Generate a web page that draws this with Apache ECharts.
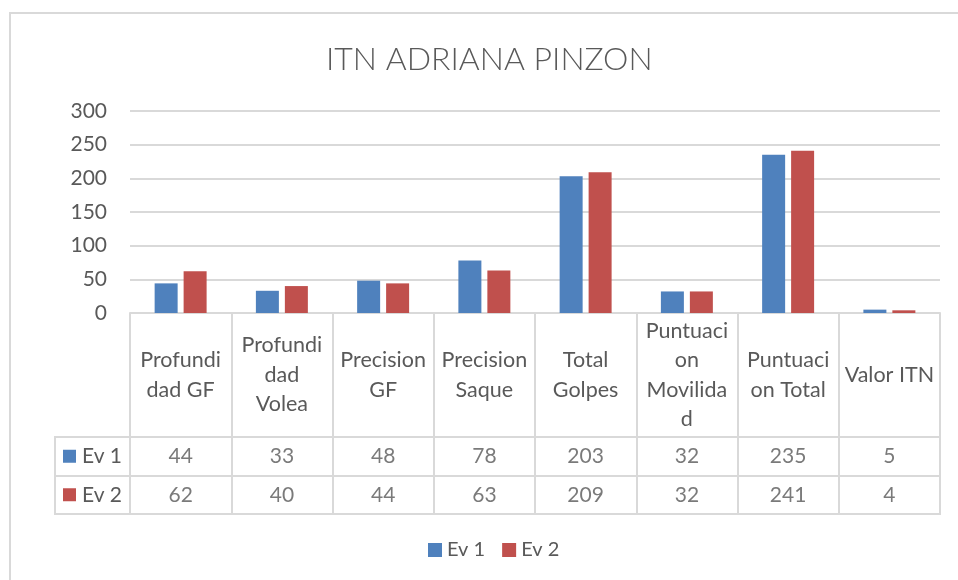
<!DOCTYPE html>
<html>
<head>
<meta charset="utf-8">
<script src="https://cdn.jsdelivr.net/npm/echarts@6/dist/echarts.min.js"></script>
<style>
html,body{margin:0;padding:0;background:#fff;}
#c{width:958px;height:580px;}
</style>
</head>
<body>
<div id="c"></div>
<script>
var titleText = 'ITN ADRIANA PINZON';
var categories = ['Profundidad GF','Profundidad Volea','Precision GF','Precision Saque','Total Golpes','Puntuacion Movilidad','Puntuacion Total','Valor ITN'];
var categoryLabels = ['Profundi\ndad GF','Profundi\ndad\nVolea','Precision\nGF','Precision\nSaque','Total\nGolpes','Puntuaci\non\nMovilida\nd','Puntuaci\non Total','Valor ITN'];
var seriesNames = ['Ev 1','Ev 2'];
var ev1 = [44,33,48,78,203,32,235,5];
var ev2 = [62,40,44,63,209,32,241,4];
var yTicks = [0,50,100,150,200,250,300];

var FONT = 'Lato';
var TXT = '#595959';
var LINE = '#d9d9d9';
var COLORS = ['#4f81bd','#c0504d'];

var tableData = [];
[ev1, ev2].forEach(function(arr, r){
  arr.forEach(function(v, i){ tableData.push([i, r, v]); });
});

var chart = echarts.init(document.getElementById('c'));
chart.setOption({
  animation:false,
  color: COLORS,
  textStyle:{fontFamily:FONT},
  title:{
    text:titleText, left:321, top:39,
    textStyle:{fontFamily:FONT, fontSize:32, fontWeight:300, color:TXT}
  },
  legend:{
    bottom:15, left:423, itemWidth:14, itemHeight:14, itemGap:17,
    icon:'rect',
    textStyle:{fontFamily:FONT, fontSize:20, color:TXT},
    data: seriesNames
  },
  graphic:[{
    type:'polyline', silent:true,
    shape:{points:[[10,600],[10,13],[970,13]]},
    style:{stroke:'#d9d9d9', lineWidth:2, fill:null}
  }],
  grid:[
    {left:130, right:18, top:111, bottom:267},
    {left:130, right:18, top:437, height:77, show:true, borderColor:LINE, borderWidth:2, backgroundColor:'transparent'},
    {left:55, width:75, top:437, height:77, show:true, borderColor:LINE, borderWidth:2, backgroundColor:'transparent'}
  ],
  xAxis:[
    {
      type:'category', gridIndex:0, data:categoryLabels,
      axisLine:{lineStyle:{color:LINE, width:2}},
      axisTick:{show:true, length:124, lineStyle:{color:LINE, width:2}},
      axisLabel:{interval:0, margin:62, verticalAlign:'middle', fontFamily:FONT, fontSize:21.5, lineHeight:29.5, color:TXT}
    },
    {
      type:'category', gridIndex:1, data:categories,
      axisLine:{show:false}, axisTick:{show:false}, axisLabel:{show:false},
      splitLine:{show:true, interval:0, lineStyle:{color:LINE, width:2}}
    },
    {
      type:'value', gridIndex:2, min:0, max:1,
      axisLine:{show:false}, axisTick:{show:false}, axisLabel:{show:false}, splitLine:{show:false}
    }
  ],
  yAxis:[
    {
      type:'value', gridIndex:0, min:0, max:300, interval:50,
      axisLine:{show:false}, axisTick:{show:false},
      axisLabel:{margin:23, fontFamily:FONT, fontSize:21, color:TXT},
      splitLine:{lineStyle:{color:LINE, width:2}}
    },
    {
      type:'category', gridIndex:1, data:seriesNames, inverse:true,
      axisLine:{show:false}, axisTick:{show:false}, axisLabel:{show:false},
      splitLine:{show:true, interval:0, lineStyle:{color:LINE, width:2}}
    },
    {
      type:'category', gridIndex:2, data:seriesNames, inverse:true,
      axisLine:{show:false}, axisTick:{show:false},
      splitLine:{show:true, interval:0, lineStyle:{color:LINE, width:2}},
      axisLabel:{
        inside:true, margin:8,
        formatter:function(v, i){ return '{s' + i + '|}{t|' + v + '}'; },
        rich:{
          s0:{width:13, height:13, backgroundColor:COLORS[0]},
          s1:{width:13, height:13, backgroundColor:COLORS[1]},
          t:{fontFamily:FONT, fontSize:21, color:TXT, padding:[0,0,0,6]}
        }
      }
    }
  ],
  series:[
    {name:seriesNames[0], type:'bar', xAxisIndex:0, yAxisIndex:0, data:ev1, barWidth:23, barGap:'26%', itemStyle:{color:COLORS[0]}},
    {name:seriesNames[1], type:'bar', xAxisIndex:0, yAxisIndex:0, data:ev2, barWidth:23, barGap:'26%', itemStyle:{color:COLORS[1]}},
    {
      type:'scatter', xAxisIndex:1, yAxisIndex:1, data:tableData, symbolSize:0, silent:true,
      label:{show:true, position:'inside', formatter:function(p){return String(p.value[2]);}, fontFamily:FONT, fontSize:21, color:TXT}
    }
  ]
});
</script>
</body>
</html>
